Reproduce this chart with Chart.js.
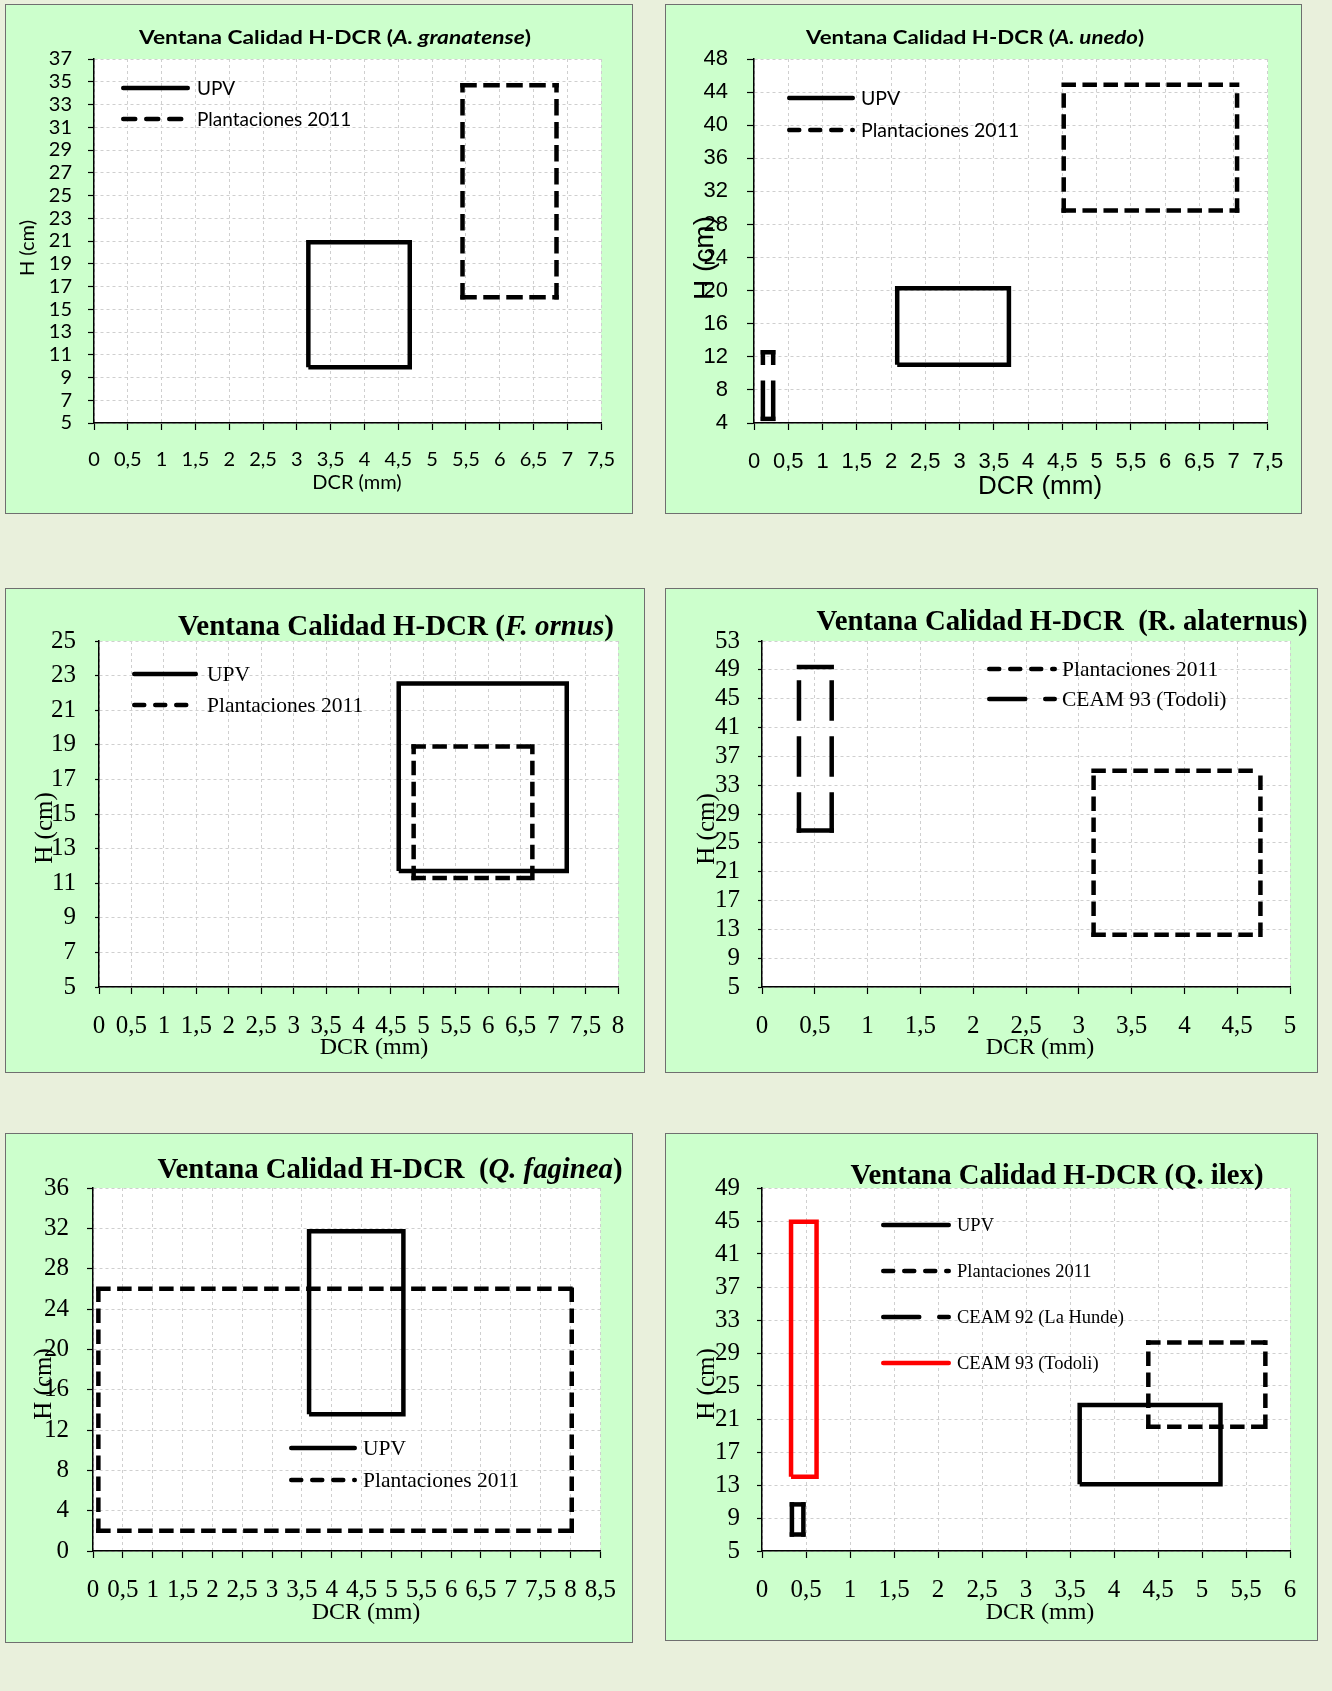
<!DOCTYPE html>
<html lang="es">
<head>
<meta charset="utf-8">
<title>Ventana Calidad H-DCR</title>
<script src="https://cdn.jsdelivr.net/npm/chart.js@4.4.1/dist/chart.umd.min.js"></script>
<style>
  body { margin: 0; background: #e9f0dc; }
  #page { position: relative; width: 1332px; height: 1691px; overflow: hidden; }
  .panel { position: absolute; background: #ccffcc; border: 1px solid #6f6f6f; box-sizing: border-box; }
  .panel canvas { position: absolute; left: -1px; top: -1px; }
</style>
</head>
<body>
<div id="page"></div>
<script>
// Boxes are [DCR min, DCR max, H min, H max]

// A. granatense
const granatenseXTicks = [0, 0.5, 1, 1.5, 2, 2.5, 3, 3.5, 4, 4.5, 5, 5.5, 6, 6.5, 7, 7.5];
const granatenseYTicks = [5, 7, 9, 11, 13, 15, 17, 19, 21, 23, 25, 27, 29, 31, 33, 35, 37];
const granatenseUPV = [3.17, 4.67, 9.9, 20.9];
const granatensePlant = [5.45, 6.84, 16.05, 34.7];

// A. unedo
const unedoXTicks = [0, 0.5, 1, 1.5, 2, 2.5, 3, 3.5, 4, 4.5, 5, 5.5, 6, 6.5, 7, 7.5];
const unedoYTicks = [4, 8, 12, 16, 20, 24, 28, 32, 36, 40, 44, 48];
const unedoUPV = [2.09, 3.72, 11.05, 20.3];
const unedoPlant = [4.52, 7.05, 29.7, 44.9];
const unedoCEAM = [0.13, 0.28, 4.5, 12.55];

// F. ornus
const ornusXTicks = [0, 0.5, 1, 1.5, 2, 2.5, 3, 3.5, 4, 4.5, 5, 5.5, 6, 6.5, 7, 7.5, 8];
const ornusYTicks = [5, 7, 9, 11, 13, 15, 17, 19, 21, 23, 25];
const ornusUPV = [4.62, 7.21, 11.7, 22.55];
const ornusPlant = [4.85, 6.68, 11.3, 18.9];

// R. alaternus
const alaternusXTicks = [0, 0.5, 1, 1.5, 2, 2.5, 3, 3.5, 4, 4.5, 5];
const alaternusYTicks = [5, 9, 13, 17, 21, 25, 29, 33, 37, 41, 45, 49, 53];
const alaternusPlant = [3.14, 4.72, 12.25, 35];
const alaternusCEAM93 = [0.35, 0.66, 26.7, 49.4];

// Q. faginea
const fagineaXTicks = [0, 0.5, 1, 1.5, 2, 2.5, 3, 3.5, 4, 4.5, 5, 5.5, 6, 6.5, 7, 7.5, 8, 8.5];
const fagineaYTicks = [0, 4, 8, 12, 16, 20, 24, 28, 32, 36];
const fagineaUPV = [3.62, 5.2, 13.57, 31.7];
const fagineaPlant = [0.09, 8.02, 2.0, 26.0];

// Q. ilex
const ilexXTicks = [0, 0.5, 1, 1.5, 2, 2.5, 3, 3.5, 4, 4.5, 5, 5.5, 6];
const ilexYTicks = [5, 9, 13, 17, 21, 25, 29, 33, 37, 41, 45, 49];
const ilexUPV = [3.61, 5.21, 13.1, 22.7];
const ilexPlant = [4.39, 5.72, 20.06, 30.27];
const ilexCEAM92 = [0.34, 0.47, 7.0, 10.65];
const ilexCEAM93 = [0.33, 0.62, 14.0, 44.9];

const LABEL_UPV = 'UPV';
const LABEL_PLANT = 'Plantaciones 2011';
const LABEL_CEAM92 = 'CEAM 92 (La Hunde)';
const LABEL_CEAM93 = 'CEAM 93 (Todoli)';

// line styles
const SOLID = { color: '#000000', width: 4.5, dash: [] };
const DASH = { color: '#000000', width: 4.5, dash: [10, 11] };
const DASH_WIDE = { color: '#000000', width: 4.5, dash: [12, 11] };
const LONGDASH = { color: '#000000', width: 4.5, dash: [36, 20] };
const RED = { color: '#ff0000', width: 4.5, dash: [] };

const SERIF = "'Liberation Serif', 'Times New Roman', serif";
const ARIAL = "'Liberation Sans', Arial, sans-serif";
const LATO = "Lato, 'Noto Sans', sans-serif";

function corners(b) {
    return [
        { x: b[0], y: b[2] }, { x: b[0], y: b[3] },
        { x: b[1], y: b[3] }, { x: b[1], y: b[2] },
        { x: b[0], y: b[2] }
    ];
}

// every side restarts its dash pattern from its bottom (vertical) or left (horizontal) end
function dashStart(ctx, dash) {
    const p0 = ctx.p0, p1 = ctx.p1;
    const len = Math.hypot(p1.x - p0.x, p1.y - p0.y);
    const period = dash[0] + dash[1];
    const vertical = Math.abs(p1.y - p0.y) > Math.abs(p1.x - p0.x);
    const fromP0 = vertical ? p0.y >= p1.y : p0.x <= p1.x;
    const off = fromP0 ? 0 : ((dash[0] - len) % period + period) % period;
    // tiny per-side difference so each side is stroked on its own
    return off + ctx.p0DataIndex * 0.001;
}

function boxSet(label, box, style, inLegend = true) {
    const ds = {
        label: label,
        data: corners(box),
        showLine: true,
        fill: false,
        borderColor: style.color,
        backgroundColor: style.color,
        borderWidth: style.width,
        borderDash: style.dash,
        borderCapStyle: style.dash.length ? 'square' : 'butt',
        borderJoinStyle: 'miter',
        pointRadius: 0,
        pointHoverRadius: 0,
        tension: 0,
        inLegend: inLegend
    };
    if (style.dash.length) {
        ds.segment = { borderDashOffset: ctx => dashStart(ctx, style.dash) };
    }
    return ds;
}

const panels = [
    {
        box: [5, 4, 633, 514], plot: [94, 59, 602, 423],
        xTicks: granatenseXTicks, yTicks: granatenseYTicks,
        tickFont: { family: LATO, size: 20 }, xLabelMid: 460, yTick: 6, yPad: 16,
        title: { parts: [['Ventana Calidad H-DCR (', false], ['A. granatense', true], [')', false]],
                 font: LATO, size: 19, x: 335, y: 44, w: 392 },
        xTitle: { text: 'DCR (mm)', font: '20px ' + LATO, x: 357, y: 489 },
        yTitle: { text: 'H (cm)', font: '20px ' + LATO, x: 28, y: 248 },
        legend: { x1: 121, x2: 190, tx: 197, ys: [88, 119], font: '19px ' + LATO },
        datasets: [
            boxSet(LABEL_UPV, granatenseUPV, SOLID),
            boxSet(LABEL_PLANT, granatensePlant, DASH_WIDE)
        ]
    },
    {
        box: [665, 4, 1302, 514], plot: [754, 59, 1269, 423],
        xTicks: unedoXTicks, yTicks: unedoYTicks,
        tickFont: { family: ARIAL, size: 22 }, xLabelMid: 462, yTick: 7, yPad: 19,
        title: { parts: [['Ventana Calidad H-DCR (', false], ['A. unedo', true], [')', false]],
                 font: LATO, size: 19, x: 975, y: 44, w: 338 },
        xTitle: { text: 'DCR (mm)', font: '26px ' + ARIAL, x: 1040, y: 494 },
        yTitle: { text: 'H (cm)', font: '28px ' + ARIAL, x: 705, y: 258 },
        legend: { x1: 787, x2: 855, tx: 861, ys: [98, 130], font: '19.5px ' + LATO },
        datasets: [
            boxSet(LABEL_UPV, unedoUPV, SOLID),
            boxSet(LABEL_PLANT, unedoPlant, DASH),
            boxSet('CEAM', unedoCEAM, LONGDASH, false)
        ]
    },
    {
        box: [5, 588, 645, 1073], plot: [99, 641, 618, 987],
        xTicks: ornusXTicks, yTicks: ornusYTicks,
        tickFont: { family: SERIF, size: 25 }, xLabelMid: 1026, yTick: 4, yPad: 19,
        title: { parts: [['Ventana Calidad H-DCR (', false], ['F. ornus', true], [')', false]],
                 font: SERIF, size: 30, x: 396, y: 635, w: 436 },
        xTitle: { text: 'DCR (mm)', font: '24px ' + SERIF, x: 374, y: 1054 },
        yTitle: { text: 'H (cm)', font: '25px ' + SERIF, x: 45, y: 828 },
        legend: { x1: 132, x2: 198, tx: 207, ys: [674, 705], font: '21.5px ' + SERIF },
        datasets: [
            boxSet(LABEL_UPV, ornusUPV, SOLID),
            boxSet(LABEL_PLANT, ornusPlant, DASH)
        ]
    },
    {
        box: [665, 588, 1318, 1073], plot: [762, 641, 1290, 987],
        xTicks: alaternusXTicks, yTicks: alaternusYTicks,
        tickFont: { family: SERIF, size: 25 }, xLabelMid: 1026, yTick: 4, yPad: 18,
        title: { parts: [['Ventana Calidad H-DCR  (R. alaternus)', false]],
                 font: SERIF, size: 30, x: 1062, y: 630, w: 491 },
        xTitle: { text: 'DCR (mm)', font: '24px ' + SERIF, x: 1040, y: 1054 },
        yTitle: { text: 'H (cm)', font: '25px ' + SERIF, x: 707, y: 829 },
        legend: { x1: 987, x2: 1057, tx: 1062, ys: [669, 699], font: '21.5px ' + SERIF },
        datasets: [
            boxSet(LABEL_PLANT, alaternusPlant, DASH),
            boxSet(LABEL_CEAM93, alaternusCEAM93, LONGDASH)
        ]
    },
    {
        box: [5, 1133, 633, 1643], plot: [93, 1188, 601, 1551],
        xTicks: fagineaXTicks, yTicks: fagineaYTicks,
        tickFont: { family: SERIF, size: 25 }, xLabelMid: 1590, yTick: 6, yPad: 18,
        title: { parts: [['Ventana Calidad H-DCR  (', false], ['Q. faginea', true], [')', false]],
                 font: SERIF, size: 30, x: 390, y: 1178, w: 465 },
        xTitle: { text: 'DCR (mm)', font: '24px ' + SERIF, x: 366, y: 1619 },
        yTitle: { text: 'H (cm)', font: '25px ' + SERIF, x: 44, y: 1384 },
        legend: { x1: 289, x2: 357, tx: 363, ys: [1448, 1480], font: '21.5px ' + SERIF },
        datasets: [
            boxSet(LABEL_UPV, fagineaUPV, SOLID),
            boxSet(LABEL_PLANT, fagineaPlant, DASH)
        ]
    },
    {
        box: [665, 1133, 1318, 1641], plot: [762, 1188, 1290, 1551],
        xTicks: ilexXTicks, yTicks: ilexYTicks,
        tickFont: { family: SERIF, size: 25 }, xLabelMid: 1590, yTick: 5, yPad: 17,
        title: { parts: [['Ventana Calidad H-DCR (Q. ilex)', false]],
                 font: SERIF, size: 29, x: 1057, y: 1184, w: 413 },
        xTitle: { text: 'DCR (mm)', font: '24px ' + SERIF, x: 1040, y: 1619 },
        yTitle: { text: 'H (cm)', font: '25px ' + SERIF, x: 707, y: 1384 },
        legend: { x1: 881, x2: 951, tx: 957, ys: [1225, 1271, 1317, 1363], font: '18.5px ' + SERIF },
        datasets: [
            boxSet(LABEL_UPV, ilexUPV, SOLID),
            boxSet(LABEL_PLANT, ilexPlant, DASH),
            boxSet(LABEL_CEAM92, ilexCEAM92, LONGDASH),
            boxSet(LABEL_CEAM93, ilexCEAM93, RED)
        ]
    }
];

function decorPlugin(p) {
    const ox = p.box[0], oy = p.box[1];
    return {
        id: 'decor',
        beforeDraw(chart) {
            const { ctx, chartArea: a } = chart;
            ctx.save();
            ctx.fillStyle = '#ffffff';
            ctx.fillRect(a.left, a.top, a.right - a.left, a.bottom - a.top);
            ctx.restore();
        },
        afterDatasetsDraw(chart) {
            const ctx = chart.ctx;
            const lg = p.legend;
            const items = chart.data.datasets.filter(d => d.inLegend !== false);
            items.forEach((d, i) => {
                const y = lg.ys[i] - oy;
                const c = d.borderWidth / 2;
                ctx.save();
                ctx.strokeStyle = d.borderColor;
                ctx.lineWidth = d.borderWidth;
                ctx.lineCap = 'round';
                ctx.setLineDash(d.borderDash);
                ctx.beginPath();
                ctx.moveTo(lg.x1 - ox + c, y);
                ctx.lineTo(lg.x2 - ox - c, y);
                ctx.stroke();
                ctx.setLineDash([]);
                ctx.fillStyle = '#000';
                ctx.font = lg.font;
                ctx.textAlign = 'left';
                ctx.textBaseline = 'middle';
                ctx.fillText(d.label, lg.tx - ox, y + 1);
                ctx.restore();
            });
        },
        afterDraw(chart) {
            const ctx = chart.ctx;
            ctx.save();
            ctx.fillStyle = '#000';

            // title, squeezed to its width
            const t = p.title;
            const fonts = t.parts.map(pt => (pt[1] ? 'italic ' : '') + 'bold ' + t.size + 'px ' + t.font);
            let total = 0;
            const widths = t.parts.map((pt, i) => { ctx.font = fonts[i]; const w = ctx.measureText(pt[0]).width; total += w; return w; });
            const s = t.w / total;
            ctx.save();
            ctx.translate(t.x - ox, t.y - oy);
            ctx.scale(s, 1);
            ctx.textBaseline = 'alphabetic';
            ctx.textAlign = 'left';
            let x = -total / 2;
            t.parts.forEach((pt, i) => { ctx.font = fonts[i]; ctx.fillText(pt[0], x, 0); x += widths[i]; });
            ctx.restore();

            // axis titles
            ctx.font = p.xTitle.font;
            ctx.textAlign = 'center';
            ctx.textBaseline = 'alphabetic';
            ctx.fillText(p.xTitle.text, p.xTitle.x - ox, p.xTitle.y - oy);

            ctx.save();
            ctx.translate(p.yTitle.x - ox, p.yTitle.y - oy);
            ctx.rotate(-Math.PI / 2);
            ctx.font = p.yTitle.font;
            ctx.textAlign = 'center';
            ctx.textBaseline = 'middle';
            ctx.fillText(p.yTitle.text, 0, 0);
            ctx.restore();

            ctx.restore();
        }
    };
}

function comma(v) {
    return String(v).replace('.', ',');
}

function makeChart(p) {
    const page = document.getElementById('page');
    const w = p.box[2] - p.box[0];
    const h = p.box[3] - p.box[1];
    const wrap = document.createElement('div');
    wrap.className = 'panel';
    wrap.style.left = p.box[0] + 'px';
    wrap.style.top = p.box[1] + 'px';
    wrap.style.width = w + 'px';
    wrap.style.height = h + 'px';
    const cv = document.createElement('canvas');
    cv.width = w;
    cv.height = h;
    cv.style.width = w + 'px';
    cv.style.height = h + 'px';
    wrap.appendChild(cv);
    page.appendChild(wrap);

    const [L, T, R, B] = p.plot;
    const xTick = 7;
    const xPad = p.xLabelMid - B - xTick - 0.6 * p.tickFont.size;

    const grid = { color: '#cfcfcf', lineWidth: 1, tickColor: '#000', tickWidth: 1.2 };
    const border = { color: '#000', width: 1.5, dash: [3, 3] };

    new Chart(cv, {
        type: 'scatter',
        data: { datasets: p.datasets },
        options: {
            responsive: false,
            animation: false,
            events: [],
            devicePixelRatio: 1,
            layout: { padding: { left: 0, top: T - p.box[1], right: p.box[2] - R, bottom: 0 } },
            plugins: {
                legend: { display: false },
                tooltip: { enabled: false },
                title: { display: false }
            },
            scales: {
                x: {
                    type: 'linear',
                    min: p.xTicks[0],
                    max: p.xTicks[p.xTicks.length - 1],
                    afterBuildTicks: sc => { sc.ticks = p.xTicks.map(v => ({ value: v })); },
                    afterFit: sc => { sc.height = p.box[3] - B; },
                    ticks: { font: p.tickFont, color: '#000', padding: xPad, maxRotation: 0, autoSkip: false, callback: comma },
                    grid: Object.assign({ tickLength: xTick }, grid),
                    border: border
                },
                y: {
                    type: 'linear',
                    min: p.yTicks[0],
                    max: p.yTicks[p.yTicks.length - 1],
                    afterBuildTicks: sc => { sc.ticks = p.yTicks.map(v => ({ value: v })); },
                    afterFit: sc => { sc.width = L - p.box[0]; },
                    ticks: { font: p.tickFont, color: '#000', padding: p.yPad, autoSkip: false, callback: comma },
                    grid: Object.assign({ tickLength: p.yTick }, grid),
                    border: border
                }
            }
        },
        plugins: [decorPlugin(p)]
    });
}

panels.forEach(makeChart);
</script>
</body>
</html>
